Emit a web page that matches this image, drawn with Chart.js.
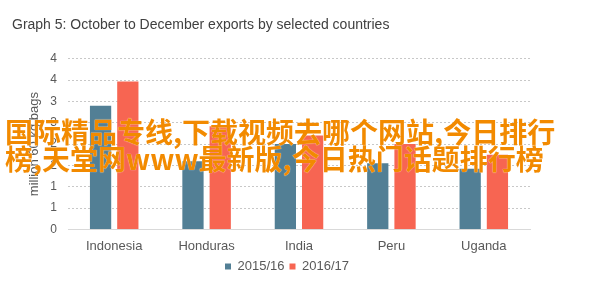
<!DOCTYPE html>
<html>
<head>
<meta charset="utf-8">
<script src="https://cdn.jsdelivr.net/npm/chart.js@4.4.0/dist/chart.umd.min.js"></script>
<style>
  html, body { margin: 0; padding: 0; background: #fff; }
  #wrap { position: relative; width: 598px; height: 283px; }
  #overlay {
    position: absolute; left: 5px; top: 118px; width: 598px;
    font-family: "Noto Sans CJK SC", sans-serif; font-weight: bold;
    font-size: 28px; line-height: 27px; color: #f28a00;
    white-space: nowrap; pointer-events: none;
    text-shadow: 0 0 1px #fff;
  }
</style>
</head>
<body>
<div id="wrap">
  <canvas id="chart" width="598" height="283"></canvas>
  <div id="overlay">国际精品专线,下载视频去哪个网站,今日排行<br>榜,天堂网www最新版,今日热门话题排行榜</div>
</div>
<script>
// 数据
const countries = ['Indonesia', 'Honduras', 'India', 'Peru', 'Uganda'];
const exports1516 = [2.9, 1.6, 2.0, 1.55, 1.42];
const exports1617 = [3.47, 2.42, 2.2, 2.0, 1.75];
const seriesNames = ['2015/16', '2016/17'];
const yTicks = [0, 0.5, 1, 1.5, 2, 2.5, 3, 3.5, 4];

const textColor = '#595959';
const font = 'Liberation Sans, Arial, sans-serif';

const ctx = document.getElementById('chart').getContext('2d');
new Chart(ctx, {
  type: 'bar',
  data: {
    labels: countries,
    datasets: [
      { label: seriesNames[0], data: exports1516, backgroundColor: '#527f95' },
      { label: seriesNames[1], data: exports1617, backgroundColor: '#f76552' }
    ]
  },
  options: {
    responsive: false,
    animation: false,
    categoryPercentage: 0.59,
    barPercentage: 0.78,
    layout: { padding: { left: 12, right: 36, top: 0, bottom: 0 } },
    plugins: {
      title: {
        display: true,
        text: 'Graph 5: October to December exports by selected countries',
        align: 'start',
        color: '#404040',
        font: { family: font, size: 14, weight: 'normal' },
        padding: { top: 17, bottom: 25 }
      },
      legend: {
        position: 'bottom',
        labels: {
          color: textColor,
          font: { family: font, size: 13 },
          boxWidth: 6, boxHeight: 6, padding: 5
        }
      },
      tooltip: { enabled: false }
    },
    scales: {
      x: {
        grid: { display: false },
        border: { display: true, color: '#d9d9d9', width: 1 },
        ticks: {
          color: textColor,
          font: { family: font, size: 13 },
          padding: 1,
          maxRotation: 0
        }
      },
      y: {
        min: 0, max: 4,
        afterBuildTicks: (axis) => { axis.ticks = yTicks.map(v => ({ value: v })); },
        afterFit: (axis) => { axis.width = 56; },
        grid: { color: '#c8c8c8', drawTicks: false },
        border: { display: false, dash: [2, 2] },
        ticks: {
          color: textColor,
          font: { family: font, size: 12 },
          padding: 11,
          callback: (v) => Math.round(v)
        },
        title: {
          display: true,
          text: 'million 60 kg bags',
          color: textColor,
          font: { family: font, size: 13 },
          padding: { top: 15, bottom: 0 }
        }
      },
      // 右侧空白轴，只用来留出右边距
      yRight: {
        type: 'linear',
        position: 'right',
        display: true,
        afterFit: (axis) => { axis.width = 32; },
        grid: { display: false },
        border: { display: false },
        ticks: { display: false }
      }
    }
  }
});
</script>
</body>
</html>
